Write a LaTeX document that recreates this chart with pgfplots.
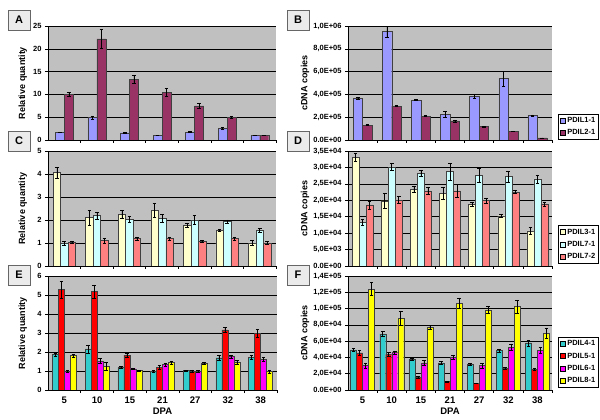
\documentclass[border=0pt]{standalone}
\usepackage{fontspec}
\setmainfont{Liberation Sans}
\usepackage{pgfplots}
\pgfplotsset{compat=1.18}

\definecolor{plotgray}{HTML}{C0C0C0}
\definecolor{cA}{HTML}{9999FF}
\definecolor{cB}{HTML}{993366}
\definecolor{cC}{HTML}{FFFFCC}
\definecolor{cD}{HTML}{CCFFFF}
\definecolor{cE}{HTML}{FF8080}
\definecolor{cF}{HTML}{33CCCC}
\definecolor{cG}{HTML}{FF0000}
\definecolor{cH}{HTML}{FF00FF}
\definecolor{cI}{HTML}{FFFF00}

\newcommand\fs[1]{\fontsize{#1}{#1}\selectfont\bfseries}

\pgfplotsset{
  panel/.style={
    scale only axis, ybar=0pt,
    xmin=-0.5, xmax=6.5, xtick={0,...,6}, xticklabels={},
    major x tick style={draw=none},
    minor xtick={0.5,1.5,...,6.5},
    minor x tick style={black, line width=0.5bp},
    major tick length=3bp, minor tick length=3bp,
    axis x line*=bottom, axis y line*=left,
    axis line style={black, line width=0.6bp},
    tick align=outside,
    ytick style={black, line width=0.5bp},
    ymajorgrids, grid style={black, line width=0.5bp},
    axis background/.style={fill=plotgray},
    ymin=0, scaled y ticks=false,
    /pgf/number format/assume math mode=true,
    tick label style={font=\fs{7.5bp}},
    ylabel style={font=\fs{9bp}, anchor=center},
    xlabel style={font=\fs{9.5bp}, anchor=center, at={(rel axis cs:0.5,-0.185)}},
    x tick label style={font=\fs{9.5bp}},
    legend image code/.code={\draw[#1, draw=black, line width=0.4bp] (0bp,-2.5bp) rectangle (5bp,2.5bp);},
    legend style={at={(1.03,0)}, anchor=south west, draw=black, line width=0.5bp,
      font=\fs{7.5bp}, row sep=2.5bp, inner sep=2bp, nodes={inner sep=1.5bp}},
    legend cell align=left,
  },
  eb/.style={draw=black!75, line width=0.4bp,
    error bars/y dir=both, error bars/y explicit,
    error bars/error bar style={black, line width=0.5bp},
    error bars/error mark options={rotate=90, black, mark size=1.8bp, line width=0.5bp}},
}

\tikzset{plab/.style={draw=black!60, fill=black!8, line width=0.6bp,
  minimum width=22bp, minimum height=20bp, inner sep=0pt, font=\fs{11bp}}}

\begin{document}
\begin{tikzpicture}
\useasboundingbox (0,0) rectangle (600bp,420bp);

% A
\begin{axis}[panel, at={(48bp,280bp)}, anchor=south west, width=228bp, height=114bp,
  ymax=25, ytick={0,5,...,25}, bar width=9bp,
  ylabel={Relative quantity}, ylabel style={at={(rel axis cs:-0.11,0.5)}}]
\addplot[fill=cA, eb] coordinates {(0,1.7)+-(0,0.1) (1,4.9)+-(0,0.4) (2,1.6)+-(0,0.1) (3,1.0)+-(0,0.05) (4,1.75)+-(0,0.1) (5,2.6)+-(0,0.25) (6,1.0)+-(0,0.05)};
\addplot[fill=cB, eb] coordinates {(0,10.0)+-(0,0.5) (1,22.2)+-(0,2.0) (2,13.3)+-(0,0.9) (3,10.5)+-(0,0.9) (4,7.5)+-(0,0.5) (5,4.95)+-(0,0.25) (6,1.0)+-(0,0.05)};
\end{axis}

% B
\begin{axis}[panel, at={(348bp,280bp)}, anchor=south west, width=204bp, height=114bp,
  ymax=1000000, ytick={0,200000,400000,600000,800000,1000000},
  yticklabels={{0.0E+00},{2,0E+05},{4,0E+05},{6,0E+05},{8,0E+05},{1,0E+06}},
  bar width=9.5bp, ylabel={cDNA copies},
  ylabel style={font=\fs{9bp}, at={(rel axis cs:-0.21,0.5)}}]
\addplot[fill=cA, eb] coordinates {(0,368000)+-(0,10000) (1,950000)+-(0,45000) (2,350000)+-(0,5000) (3,228000)+-(0,25000) (4,383000)+-(0,20000) (5,540000)+-(0,65000) (6,216000)+-(0,5000)};
\addplot[fill=cB, eb] coordinates {(0,130000)+-(0,5000) (1,298000)+-(0,5000) (2,210000)+-(0,3000) (3,167000)+-(0,10000) (4,117000)+-(0,2000) (5,76000)+-(0,3000) (6,18000)+-(0,1000)};
\legend{PDIL1-1,PDIL2-1}
\end{axis}

% C
\begin{axis}[panel, at={(48bp,154bp)}, anchor=south west, width=228bp, height=115bp,
  ymax=5, ytick={0,...,5}, bar width=7.5bp,
  ylabel={Relative quantity}, ylabel style={at={(rel axis cs:-0.11,0.5)}}]
\addplot[fill=cC, eb] coordinates {(0,4.06)+-(0,0.23) (1,2.1)+-(0,0.33) (2,2.26)+-(0,0.17) (3,2.42)+-(0,0.32) (4,1.77)+-(0,0.1) (5,1.54)+-(0,0.05) (6,1.01)+-(0,0.12)};
\addplot[fill=cD, eb] coordinates {(0,1.0)+-(0,0.08) (1,2.19)+-(0,0.15) (2,2.03)+-(0,0.12) (3,2.07)+-(0,0.17) (4,2.0)+-(0,0.2) (5,1.94)+-(0,0.06) (6,1.55)+-(0,0.1)};
\addplot[fill=cE, eb] coordinates {(0,1.03)+-(0,0.06) (1,1.1)+-(0,0.1) (2,1.2)+-(0,0.07) (3,1.19)+-(0,0.08) (4,1.07)+-(0,0.04) (5,1.2)+-(0,0.07) (6,1.0)+-(0,0.07)};
\end{axis}

% D
\begin{axis}[panel, at={(348bp,154bp)}, anchor=south west, width=204bp, height=115bp,
  ymax=35000, ytick={0,5000,10000,15000,20000,25000,30000,35000},
  yticklabels={{0.0E+00},{5,0E+03},{1,0E+04},{1,5E+04},{2,0E+04},{2,5E+04},{3,0E+04},{3,5E+04}},
  bar width=7bp, ylabel={cDNA copies},
  ylabel style={font=\fs{9bp}, at={(rel axis cs:-0.21,0.5)}},
  legend style={at={(1.03,0.02)}}]
\addplot[fill=cC, eb] coordinates {(0,33100)+-(0,1200) (1,19800)+-(0,2300) (2,23300)+-(0,1000) (3,22100)+-(0,1800) (4,18800)+-(0,600) (5,15300)+-(0,500) (6,10700)+-(0,1000)};
\addplot[fill=cD, eb] coordinates {(0,13300)+-(0,1000) (1,30200)+-(0,1000) (2,28200)+-(0,1000) (3,28700)+-(0,2500) (4,27600)+-(0,2000) (5,27200)+-(0,1700) (6,26500)+-(0,1200)};
\addplot[fill=cE, eb] coordinates {(0,18600)+-(0,1200) (1,20100)+-(0,1000) (2,22900)+-(0,1000) (3,22900)+-(0,2000) (4,19900)+-(0,700) (5,22500)+-(0,500) (6,18900)+-(0,600)};
\legend{PDIL3-1,PDIL7-1,PDIL7-2}
\end{axis}

% E
\begin{axis}[panel, at={(48bp,30bp)}, anchor=south west, width=229bp, height=114bp,
  ymax=6, ytick={0,...,6}, bar width=6bp,
  xticklabels={5,10,15,21,27,32,38}, xlabel={DPA},
  ylabel={Relative quantity}, ylabel style={at={(rel axis cs:-0.11,0.5)}}]
\addplot[fill=cF, eb] coordinates {(0,1.86)+-(0,0.08) (1,2.16)+-(0,0.22) (2,1.2)+-(0,0.04) (3,0.98)+-(0,0.06) (4,1.02)+-(0,0.03) (5,1.7)+-(0,0.15) (6,1.72)+-(0,0.1)};
\addplot[fill=cG, eb] coordinates {(0,5.3)+-(0,0.45) (1,5.18)+-(0,0.35) (2,1.83)+-(0,0.12) (3,1.2)+-(0,0.1) (4,1.0)+-(0,0.06) (5,3.16)+-(0,0.12) (6,2.98)+-(0,0.2)};
\addplot[fill=cH, eb] coordinates {(0,1.0)+-(0,0.05) (1,1.53)+-(0,0.12) (2,1.12)+-(0,0.04) (3,1.35)+-(0,0.08) (4,1.0)+-(0,0.05) (5,1.77)+-(0,0.08) (6,1.63)+-(0,0.1)};
\addplot[fill=cI, eb] coordinates {(0,1.81)+-(0,0.06) (1,1.25)+-(0,0.2) (2,1.03)+-(0,0.03) (3,1.44)+-(0,0.08) (4,1.4)+-(0,0.05) (5,1.46)+-(0,0.08) (6,0.97)+-(0,0.08)};
\end{axis}

% F
\begin{axis}[panel, at={(348bp,30bp)}, anchor=south west, width=204bp, height=114bp,
  ymax=140000, ytick={0,20000,40000,60000,80000,100000,120000,140000},
  yticklabels={{0.0E+00},{2,0E+04},{4,0E+04},{6,0E+04},{8,0E+04},{1,0E+05},{1,2E+05},{1,4E+05}},
  bar width=6bp, xticklabels={5,10,15,21,27,32,38}, xlabel={DPA},
  ylabel={cDNA copies},
  ylabel style={font=\fs{9bp}, at={(rel axis cs:-0.21,0.5)}},
  legend style={at={(1.03,0.02)}}]
\addplot[fill=cF, eb] coordinates {(0,49200)+-(0,1500) (1,68900)+-(0,3500) (2,38100)+-(0,1500) (3,33200)+-(0,1500) (4,31600)+-(0,1000) (5,48400)+-(0,1500) (6,57800)+-(0,3500)};
\addplot[fill=cG, eb] coordinates {(0,45500)+-(0,3000) (1,43900)+-(0,2000) (2,15600)+-(0,1000) (3,10200)+-(0,800) (4,8200)+-(0,500) (5,26600)+-(0,1000) (6,25400)+-(0,1500)};
\addplot[fill=cH, eb] coordinates {(0,30300)+-(0,3000) (1,45900)+-(0,2000) (2,33200)+-(0,3000) (3,40600)+-(0,2500) (4,29900)+-(0,3000) (5,52500)+-(0,4000) (6,48800)+-(0,4000)};
\addplot[fill=cI, eb] coordinates {(0,123800)+-(0,8000) (1,88100)+-(0,9000) (2,76600)+-(0,2500) (3,106600)+-(0,6500) (4,98400)+-(0,4500) (5,102500)+-(0,8000) (6,69700)+-(0,6500)};
\legend{PDIL4-1,PDIL5-1,PDIL6-1,PDIL8-1}
\end{axis}

% panel letters
\node[plab] at (19bp,400bp) {A};
\node[plab] at (298bp,400bp) {B};
\node[plab] at (19bp,279bp) {C};
\node[plab] at (298bp,279bp) {D};
\node[plab] at (19bp,145bp) {E};
\node[plab] at (298bp,145bp) {F};
\end{tikzpicture}
\end{document}
